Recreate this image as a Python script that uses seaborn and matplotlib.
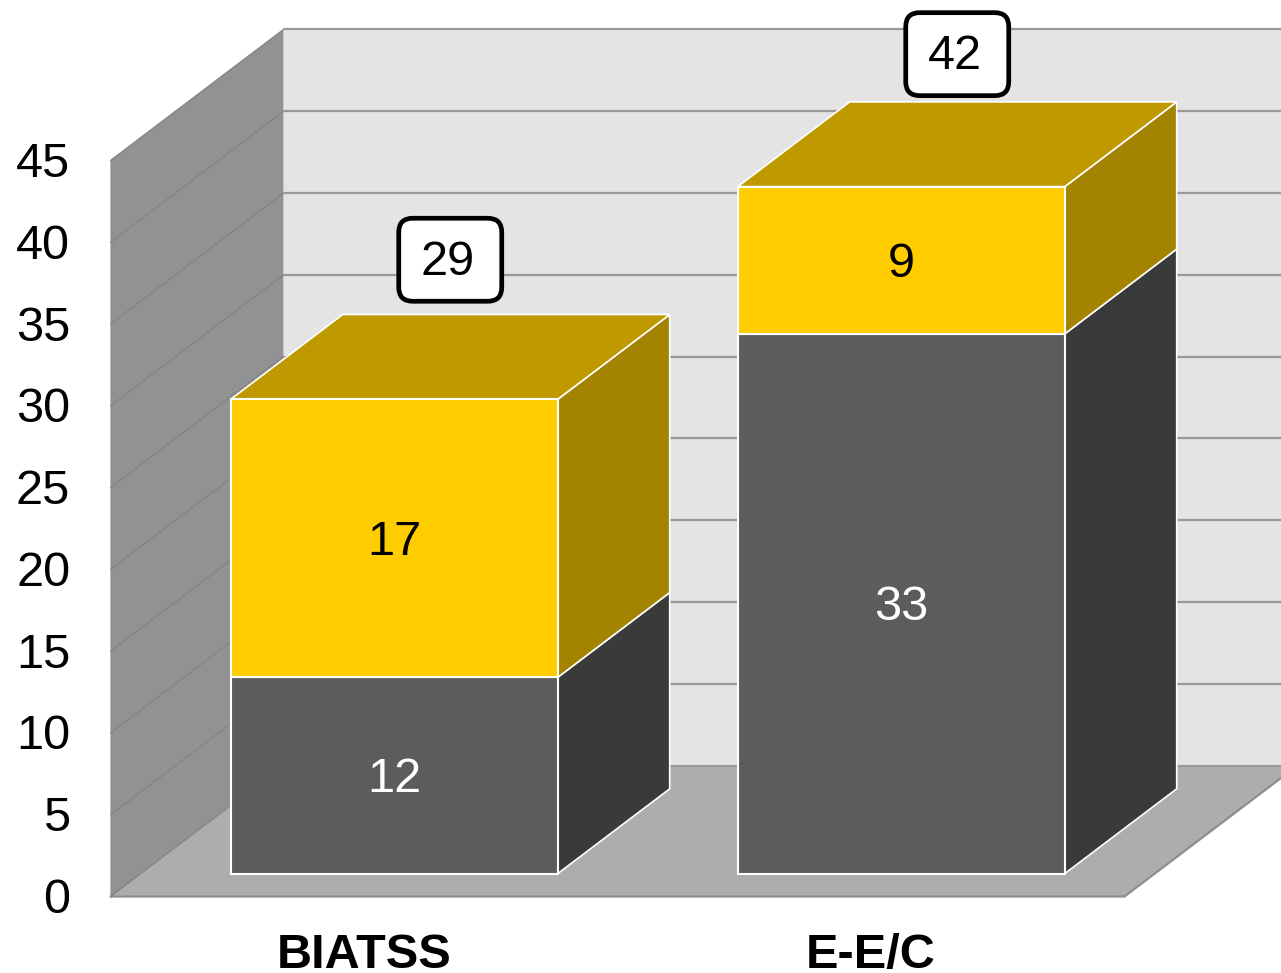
import numpy as np
import seaborn as sns
import matplotlib.pyplot as plt
from matplotlib.patches import Polygon, FancyBboxPatch
from matplotlib.transforms import IdentityTransform, Affine2D

# Values
categories = ['BIATSS', 'E-E/C']
grey_values = [12, 33]
yellow_values = [17, 9]
totals = [29, 42]
y_ticks = [0, 5, 10, 15, 20, 25, 30, 35, 40, 45]

sns.set_style('white')
plt.rcParams['font.family'] = ['Liberation Sans', 'DejaVu Sans']

W, H = 1281, 973
FS = 35
fig = plt.figure(figsize=(W / 100, H / 100), dpi=100)
# axes = front plane of the fake 3D box
ax = fig.add_axes([110.5 / W, (H - 896.5) / H, 1014 / W, 736 / H])
ax.patch.set_visible(False)

# depth of the box in data units, and where the bars sit inside it
DX = 173 / 507
DY = 131 / (736 / 45)
D_FRONT = 0.175
D_BACK = 0.822
BAR_W = 327 / 507
X0, X1 = -0.5, 1.5
Y_MAX = y_ticks[-1]


def proj(x, y, d):
    return (x + d * DX, y + d * DY)


def face(points, color, z, edge='none', lw=0):
    ax.add_patch(Polygon(points, closed=True, facecolor=color, edgecolor=edge,
                         linewidth=lw, zorder=z, clip_on=False))


# walls and floor
face([proj(X0, 0, 0), proj(X0, Y_MAX, 0), proj(X0, Y_MAX, 1), proj(X0, 0, 1)], '#929292', 1)
face([proj(X0, 0, 1), proj(X0, Y_MAX, 1), proj(X1, Y_MAX, 1), proj(X1, 0, 1)], '#e4e4e4', 1)
face([proj(X0, 0, 0), proj(X1, 0, 0), proj(X1, 0, 1), proj(X0, 0, 1)], '#adadad', 1.5)

# gridlines
for v in y_ticks:
    xs, ys = zip(proj(X0, v, 0), proj(X0, v, 1))
    ax.plot(xs, ys, color='#858585', lw=1, zorder=2, clip_on=False)
    xs, ys = zip(proj(X0, v, 1), proj(X1, v, 1))
    ax.plot(xs, ys, color='#989898', lw=1.6, zorder=2, clip_on=False)
xs, ys = zip(proj(X0, 0, 0), proj(X1, 0, 0), proj(X1, 0, 1))
ax.plot(xs, ys, color='#8e8e8e', lw=1.6, zorder=2, clip_on=False)
ax.plot([X0, X0], [0, Y_MAX], color='#8e8e8e', lw=1, zorder=2, clip_on=False)

# front faces
sns.barplot(x=categories, y=grey_values, color='#5c5c5c', saturation=1, width=BAR_W,
            edgecolor='white', linewidth=1.5, zorder=4, ax=ax)
sns.barplot(x=categories, y=yellow_values, bottom=grey_values, color='#ffcc00', saturation=1,
            width=BAR_W, edgecolor='white', linewidth=1.5, zorder=4, ax=ax)

# push the front faces back into the box
for bar in ax.patches:
    if isinstance(bar, Polygon):
        continue
    x, y = bar.get_xy()
    bar.set_xy(proj(x, y, D_FRONT))
    bar.set_clip_on(False)

# side and top faces
for i in range(len(categories)):
    right = i + BAR_W / 2
    left = i - BAR_W / 2
    g = grey_values[i]
    t = g + yellow_values[i]
    face([proj(right, 0, D_FRONT), proj(right, g, D_FRONT), proj(right, g, D_BACK), proj(right, 0, D_BACK)],
         '#3a3a3a', 3, 'white', 1.2)
    face([proj(right, g, D_FRONT), proj(right, t, D_FRONT), proj(right, t, D_BACK), proj(right, g, D_BACK)],
         '#a38300', 3, 'white', 1.2)
    face([proj(left, t, D_FRONT), proj(right, t, D_FRONT), proj(right, t, D_BACK), proj(left, t, D_BACK)],
         '#bf9900', 3, 'white', 1.2)

# segment labels
for container, col in zip(ax.containers, ['white', 'black']):
    labels = ax.bar_label(container, label_type='center', color=col, fontsize=FS)
    for lab in labels:
        lab.set_zorder(6)
        lab.xyann = (0, -3)

ax.set_xlim(X0, X1)
ax.set_ylim(0, Y_MAX)

# total boxes above the bars, fixed size in pixels
lift = [8.53, 8.10]
BOX_W, BOX_H = 103, 83
for i, total in enumerate(totals):
    x = proj(i, total, (D_FRONT + D_BACK) / 2)[0]
    y = proj(i, total, D_FRONT)[1] + lift[i]
    px, py = ax.transData.transform((x, y))
    ax.add_patch(FancyBboxPatch((px - BOX_W / 2, py - BOX_H / 2), BOX_W, BOX_H,
                                boxstyle='round,pad=0,rounding_size=14', facecolor='white',
                                edgecolor='black', linewidth=3.4, zorder=7,
                                transform=IdentityTransform(), clip_on=False))
    ax.annotate(str(total), (x, y), xytext=(-2, -2), textcoords='offset points', fontsize=FS,
                color='black', ha='center', va='center', zorder=8, annotation_clip=False)

ax.set_yticks(y_ticks)
ax.set_xlabel('')
ax.set_ylabel('')
ax.tick_params(axis='y', length=0, pad=29, labelsize=FS, colors='black')
ax.tick_params(axis='x', length=0, pad=26, labelsize=FS, colors='black')
for lab in ax.get_xticklabels():
    lab.set_fontweight('bold')
for lab in ax.get_yticklabels():
    lab.set_transform(lab.get_transform() + Affine2D().translate(0, 1))
sns.despine(ax=ax, left=True, bottom=True)

fig.savefig('out.png', dpi=100)
